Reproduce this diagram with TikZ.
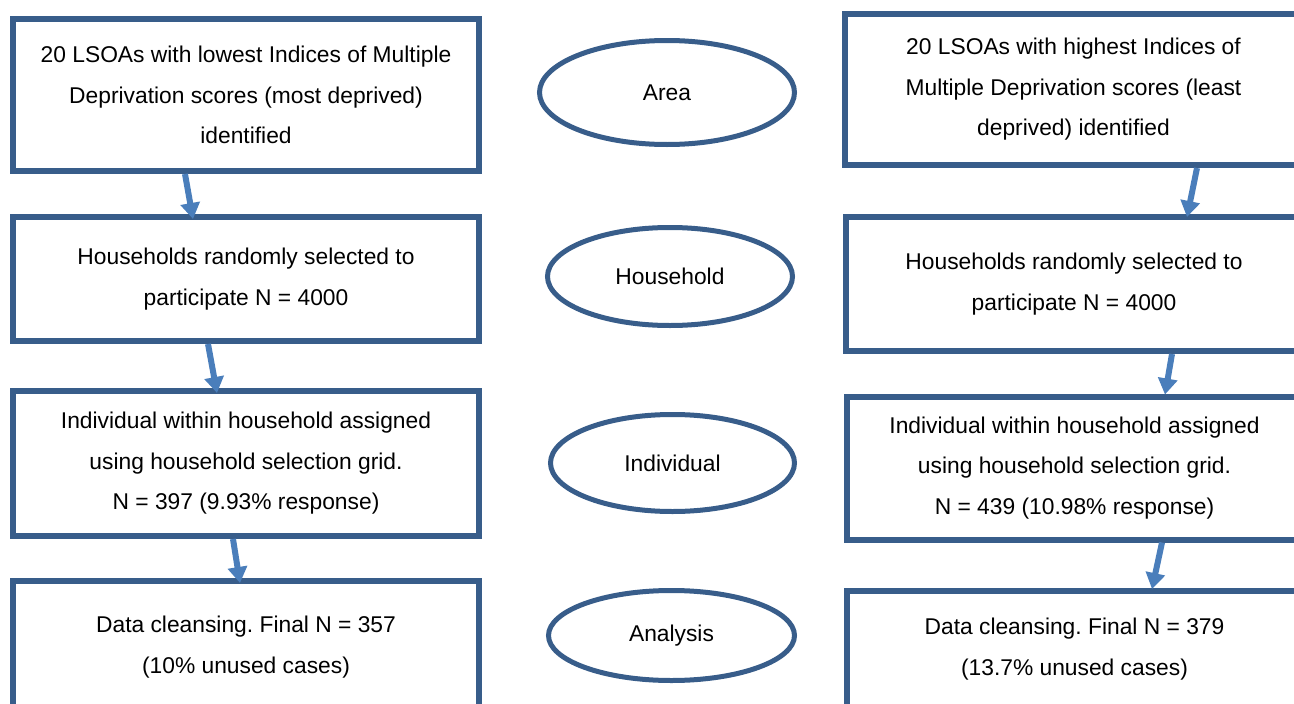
\documentclass[tikz,border=0pt]{standalone}
\usepackage{fontspec}
\setmainfont{Liberation Sans}
\usetikzlibrary{shapes.geometric,arrows.meta,calc}
\definecolor{boxblue}{RGB}{56,93,138}
\definecolor{arrowblue}{RGB}{74,126,187}
\frenchspacing
\begin{document}
\begin{tikzpicture}[x=1pt,y=-1pt,
  stagebox/.style={draw=boxblue,line width=6pt,rectangle,align=center,inner sep=0pt,
    font=\fontsize{22.8}{40.5}\selectfont},
  levelell/.style={draw=boxblue,line width=5pt,ellipse,inner sep=0pt,
    font=\fontsize{22.8}{27}\selectfont},
  flow/.style={draw=arrowblue,line width=6pt,-{Triangle[width=19pt,length=16pt]}}]
\useasboundingbox (0,0) rectangle (1294,704);
\clip (0,0) rectangle (1294,704);
% left column
\node[stagebox,minimum width=466pt,minimum height=152pt] (L1) at (246,95)
  {20 LSOAs with lowest Indices of Multiple\\Deprivation scores (most deprived)\\identified};
\node[stagebox,minimum width=466pt,minimum height=124pt] (L2) at (246,279)
  {Households randomly selected to\\participate N = 4000};
\node[stagebox,minimum width=466pt,minimum height=145pt] (L3) at (246,463.5)
  {Individual within household assigned\\using household selection grid.\\N = 397 (9.93\% response)};
\node[stagebox,minimum width=466pt,minimum height=132pt] (L4) at (246,647)
  {Data cleansing. Final N = 357\\(10\% unused cases)};
% right column
\node[stagebox,minimum width=457pt,minimum height=151pt] (R1) at (1073.5,89.5)
  {20 LSOAs with highest Indices of\\Multiple Deprivation scores (least\\deprived) identified};
\node[stagebox,minimum width=456pt,minimum height=134pt] (R2) at (1074,284)
  {Households randomly selected to\\participate N = 4000};
\node[stagebox,minimum width=455pt,minimum height=143pt] (R3) at (1074.5,468)
  {Individual within household assigned\\using household selection grid.\\N = 439 (10.98\% response)};
\node[stagebox,minimum width=455pt,minimum height=116pt] (R4) at (1074.5,649)
  {Data cleansing. Final N = 379\\(13.7\% unused cases)};
% level ellipses
\node[levelell,minimum width=255pt,minimum height=104pt] (E1) at (667,92.5) {Area};
\node[levelell,minimum width=245pt,minimum height=98pt] (E2) at (670,276.5) {Household};
\node[levelell,minimum width=244pt,minimum height=97pt] (E3) at (672.5,463) {Individual};
\node[levelell,minimum width=246pt,minimum height=90pt] (E4) at (671.5,635.5) {Analysis};
% arrows
\draw[flow] ([xshift=-61pt]L1.south) -- ([xshift=-53pt,yshift=-5pt]L2.north);
\draw[flow] ([xshift=-38pt]L2.south) -- ([xshift=-29pt,yshift=-5pt]L3.north);
\draw[flow] ([xshift=-13pt]L3.south) -- ([xshift=-6pt,yshift=-5pt]L4.north);
\draw[flow] ([xshift=123.5pt]R1.south) -- ([xshift=113pt,yshift=-3pt]R2.north);
\draw[flow] ([xshift=98pt]R2.south) -- ([xshift=90.5pt,yshift=-1pt]R3.north);
\draw[flow] ([xshift=87.5pt]R3.south) -- ([xshift=77.5pt,yshift=-1pt]R4.north);
\end{tikzpicture}
\end{document}
